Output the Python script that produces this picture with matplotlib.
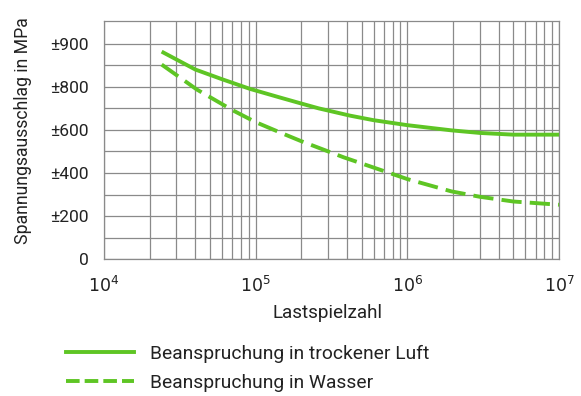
import numpy as np
import matplotlib.pyplot as plt
from matplotlib.lines import Line2D

plt.rcParams['font.family'] = ['Roboto', 'DejaVu Sans']

# Daten
n_luft = [2.4e4, 4e4, 6e4, 9.2e4, 1.45e5, 1.96e5, 2.6e5, 4.2e5, 6e5, 1e6, 1.95e6, 3e6, 5e6, 1e7]
s_luft = [963, 880, 835, 790, 750, 724, 700, 666, 645, 622, 598, 586, 578, 578]

n_wasser = [2.4e4, 4.1e4, 7.1e4, 1e5, 1.45e5, 1.96e5, 3.8e5, 1e6, 1.95e6, 3e6, 5e6, 1e7]
s_wasser = [903, 787, 690, 636, 588, 550, 473, 372, 315, 290, 268, 253]

y_ticks = [0, 200, 400, 600, 800, 1000]
y_labels = ['0', '±200', '±400', '±600', '±800', '±900']
x_ticks = [1e4, 1e5, 1e6, 1e7]
x_labels = ['$10^4$', '$10^5$', '$10^6$', '$10^7$']

gruen = '#5ec524'
grau = '#8a8a8a'
text_c = '#222222'

fig = plt.figure(figsize=(5.81, 3.96), dpi=100)
ax = fig.add_axes([104 / 581, 1 - 259.3 / 396, 455 / 581, 238.3 / 396])

ax.plot(n_luft, s_luft, color=gruen, lw=2.8, solid_capstyle='butt', zorder=3)
ax.plot(n_wasser, s_wasser, color=gruen, lw=2.8, dashes=(5.2, 2.1), zorder=3)

ax.set_xscale('log')
ax.set_xlim(1e4, 1e7)
ax.set_ylim(0, 1105)
ax.set_xticks(x_ticks)
ax.set_xticklabels(x_labels)
ax.set_yticks(y_ticks)
ax.set_yticklabels(y_labels)
ax.set_yticks(np.arange(100, 1100, 100), minor=True)
ax.xaxis.set_minor_locator(plt.matplotlib.ticker.LogLocator(base=10, subs=np.arange(2, 10)))
ax.xaxis.set_minor_formatter(plt.NullFormatter())
ax.grid(True, which='both', color=grau, lw=0.9)
ax.tick_params(which='both', length=0, labelsize=12.5, colors=text_c)
ax.tick_params(axis='y', pad=11)
ax.tick_params(axis='x', pad=11)
for s in ax.spines.values():
    s.set_color(grau)
    s.set_linewidth(0.9)

fig.text(23 / 581, 1 - 131 / 396, 'Spannungsausschlag in MPa', rotation=90,
         ha='center', va='center', fontsize=12.7, color=text_c)
fig.text(328 / 581, 1 - 313 / 396, 'Lastspielzahl', ha='center', va='center',
         fontsize=13.6, color=text_c)

handles = [Line2D([], [], color=gruen, lw=2.8),
           Line2D([], [], color=gruen, lw=2.8, dashes=(3.5, 1.3))]
fig.legend(handles, ['Beanspruchung in trockener Luft', 'Beanspruchung in Wasser'],
           loc='upper left', bbox_to_anchor=(66 / 581, 1 - 345 / 396), frameon=False,
           borderpad=0, borderaxespad=0, fontsize=13.9, handlelength=3.52,
           handletextpad=0.83, labelspacing=0.55, labelcolor=text_c)

fig.savefig('out.png', dpi=100)
